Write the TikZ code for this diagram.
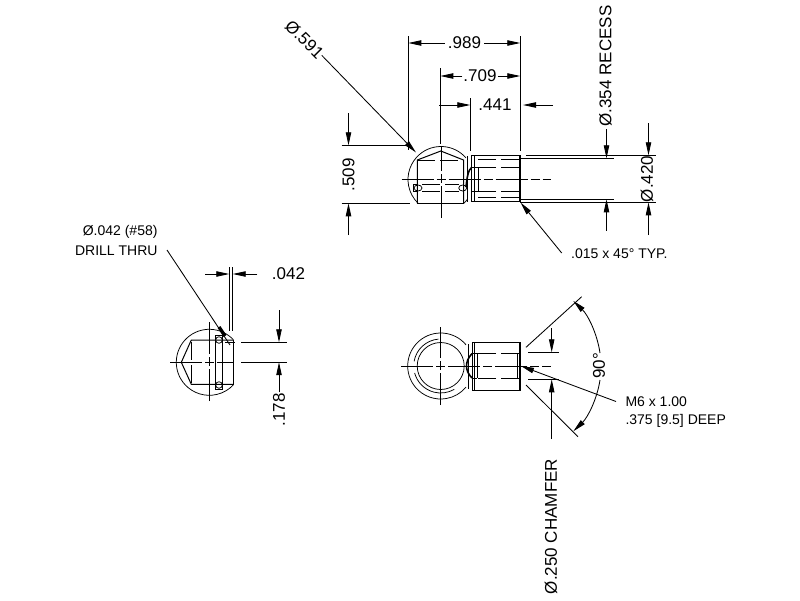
\documentclass[tikz,border=0pt]{standalone}
\usepackage{fontspec}
\setmainfont{Liberation Sans}
\usetikzlibrary{arrows.meta}
\tikzset{
  part/.style={line width=1pt,black},
  heavy/.style={line width=1.6pt,black},
  thin line/.style={line width=0.75pt,black},
  extline/.style={line width=0.85pt,black},
  hidden/.style={line width=0.9pt,black,dash pattern=on 18pt off 5pt},
  centre/.style={line width=0.85pt,black,dash pattern=on 32pt off 3pt on 9pt off 3pt},
  dim/.style={line width=0.85pt,black,-{Triangle[length=13pt,width=5.4pt]}},
  lab/.style={inner sep=0pt,font=\fontsize{17}{20}\selectfont},
  note/.style={inner sep=0pt,font=\fontsize{14}{17}\selectfont},
}
\begin{document}
\begin{tikzpicture}[x=1pt,y=-1pt]
\useasboundingbox (0,0) rectangle (800,600);
\fill[white] (0,0) rectangle (800,600);

% ---------- TOP VIEW ----------
\coordinate (tc) at (441,179.5);
\draw[thin line] (tc) ++(-41:33) arc[start angle=-41,end angle=-226.4,radius=33];
\draw[thin line] (tc) ++(46.4:33) arc[start angle=46.4,end angle=36,radius=33];
\draw[part] (417.3,203.3) -- (463.8,203.3);
\draw[part] (417.3,203.3) -- (417.3,160) -- (440.8,151) -- (463.5,160) -- (463.5,203.3);
\draw[hidden] (417.3,160) -- (463.5,160);
% cross holes
\draw[part] (417.3,184.3) -- (413.3,184.3) -- (413.3,191) -- (417.3,191);
\draw[thin line] (418,188) ellipse[x radius=4,y radius=3];
\draw[thin line] (462.7,188) ellipse[x radius=4,y radius=3];
\draw[hidden] (422,184.5) -- (459,184.5);
\draw[hidden] (422,191.3) -- (459,191.3);
% body
\draw[part] (467.7,156) -- (467.7,201.7);
\draw[part] (471.7,155.3) -- (471.7,201.8);
\draw[part] (474,155.3) -- (474,201.8);
\draw[part] (471.7,155.3) -- (520,155.3);
\draw[part] (471.7,201.8) -- (520,201.8);
\draw[heavy] (520,155) -- (520,202.3);
\draw[hidden] (519,159.3) -- (476,159.3);
\draw[hidden] (519,197.5) -- (476,197.5);
\draw[hidden] (519,167.5) -- (478.3,167.5);
\draw[hidden] (519,191.3) -- (478.3,191.3);
\draw[part] (478.3,167.5) -- (478.3,191.3);
\draw[part] (471.7,167.3) -- (478.3,167.3);
\draw[part] (471.7,191.5) -- (478.3,191.5);
\draw[heavy] (466,187) .. controls (467,178) and (468,170) .. (471.7,167.3);
% centre lines
\draw[centre] (401.5,179.5) -- (551,179.5);
\draw[centre] (441,218) -- (441,146);

% top extension lines
\draw[extline] (408.3,36) -- (408.3,150);
\draw[extline] (520.3,36) -- (520.3,151);
\draw[extline] (440.3,68) -- (440.3,144);
\draw[extline] (470.3,98) -- (470.3,151);
\draw[extline] (341.5,145.3) -- (410,145.3);
\draw[extline] (341.5,203.3) -- (410,203.3);
\draw[extline] (526,155.3) -- (656,155.3);
\draw[extline] (520,158.3) -- (614,158.3);
\draw[extline] (520,199.3) -- (614,199.3);
\draw[extline] (520,202.3) -- (656,202.3);

% top dimensions
\node[lab] (d989) at (464.5,43) {.989};
\draw[dim] (d989.west) ++(-3,0) -- (408.3,43);
\draw[dim] (d989.east) ++(3,0) -- (520.3,43);
\node[lab] (d709) at (480,76) {.709};
\draw[dim] (d709.west) ++(-1,0) -- (440.3,76);
\draw[dim] (d709.east) ++(1,0) -- (520.3,76);
\node[lab] (d441) at (495,105) {.441};
\draw[dim] (439,105) -- (470.3,105);
\draw[dim] (553,105) -- (523,105);
\node[lab,rotate=90] (d509) at (348.5,175) {.509};
\draw[dim] (348.5,113) -- (348.5,145.3);
\draw[dim] (348.5,235) -- (348.5,203.3);
\node[lab,rotate=-45] (d591) at (304.5,39.5) {Ø.591};
\draw[dim] (d591.east) ++(-45:1) -- (416,152.5);
\node[lab,rotate=90] (d354) at (605.5,66) {Ø.354 RECESS};
\draw[dim] (606.5,129) -- (606.5,158.3);
\draw[dim] (606.5,230.5) -- (606.5,199.3);
\node[lab,rotate=90] (d420) at (647,179) {Ø.420};
\draw[dim] (648.5,123) -- (648.5,155.3);
\draw[dim] (648.5,235) -- (648.5,202.3);
\coordinate (chamtip) at (520.5,202.5);
\coordinate (chamend) at (561.7,253);
\draw[dim] (chamend) -- (chamtip);
\node[note,anchor=west] (ch45) at (571,254) {.015 x 45° TYP.};

% ---------- LEFT VIEW ----------
\coordinate (lc) at (209.3,362.3);
\draw[thin line] (lc) ++(-43:33) arc[start angle=-43,end angle=-317,radius=33];
\draw[part] (233.4,339.8) -- (233.4,385);
\draw[part] (233.4,340) -- (191.3,340) -- (181.3,362.3) -- (191.3,384.3) -- (233.4,384.3);
\draw[hidden] (191.3,342) -- (191.3,384);
\draw[part] (215.3,335.3) rectangle (222.7,389.3);
\draw[thin line] (219,340) circle[radius=3.3];
\draw[thin line] (219,385) circle[radius=3.3];
\draw[centre] (170,362.4) -- (233,362.4);
\draw[centre] (209.3,401) -- (209.3,321.5);
\draw[extline] (225,342.3) -- (235,342.3);
\draw[extline] (229.3,267) -- (229.3,331);
\draw[extline] (232.7,267) -- (232.7,331);
\draw[extline] (241,342.3) -- (287,342.3);
\draw[extline] (241,362.2) -- (287,362.2);
\node[lab] (d042) at (288.5,274) {.042};
\draw[dim] (205,274) -- (229.3,274);
\draw[dim] (257.3,274) -- (232.7,274);
\node[lab,rotate=90] (d178) at (279,410) {.178};
\draw[dim] (279,310) -- (279,342.3);
\draw[dim] (d178.east) ++(0,-1) -- (279,362.2);
\node[note,anchor=east] (drillA) at (157.7,231.5) {Ø.042 (\#58)};
\node[note,anchor=east] (drillB) at (157.7,251) {DRILL THRU};
\coordinate (drilltip) at (230,345);
\draw[extline] (167,250) -- (drilltip);
\draw[line width=3.4pt,black,line cap=butt] (219,327) -- (225,336);

% ---------- BOTTOM VIEW ----------
\coordinate (bc) at (440.7,366);
\draw[thin line] (bc) ++(-40:33) arc[start angle=-40,end angle=-320,radius=33];
\draw[thin line] (bc) circle[radius=23.5];
\draw[thin line] (bc) ++(-95:27) arc[start angle=-95,end angle=-170,radius=27];
\draw[thin line] (bc) ++(165:27) arc[start angle=165,end angle=60,radius=27];
\draw[part] (468,344) -- (468,388.5);
\draw[part] (472.3,342.3) rectangle (520,390);
\draw[part] (474.5,342.3) -- (474.5,390);
\draw[hidden] (519,353.3) -- (477,353.3);
\draw[hidden] (519,378.3) -- (477,378.3);
\draw[part] (477,353.3) -- (477,378.3);
\draw[part] (517.7,353.3) -- (517.7,378.3);
\draw[part] (472,353.3) -- (477,353.3);
\draw[part] (472,378.3) -- (477,378.3);
\draw[heavy] (472,353.5) .. controls (468,358) and (466.5,362) .. (466.5,366) .. controls (466.5,370) and (468,374) .. (472,378);
\draw[heavy] (520,343) -- (520,390);
\draw[centre] (401,366) -- (551,366);
\draw[centre] (440.7,405) -- (440.7,326.7);
% chamfer and 90 deg
\draw[extline] (526,347.3) -- (581.7,296.7);
\draw[extline] (526,385) -- (578,436.7);
\draw[extline] (528,352.3) -- (559,352.3);
\draw[extline] (528,379.3) -- (559,379.3);
\draw[dim] (551.7,328) -- (551.7,352.3);
\draw[dim] (551.7,439) -- (551.7,379.3);
\node[lab,rotate=90] (d250) at (551,526.5) {Ø.250 CHAMFER};
\node[lab,rotate=90] (d90) at (599,366) {90°};
\draw[dim] (600,353) arc[start angle=-8.3,end angle=-46,radius=90.7];
\draw[dim] (600,380) arc[start angle=8.9,end angle=46,radius=90.7];
\coordinate (m6tip) at (521,366);
\coordinate (m6end) at (616,401.5);
\draw[dim] (m6end) -- (m6tip);
\node[note,anchor=west] (m6a) at (625.3,401.5) {M6 x 1.00};
\node[note,anchor=west] (m6b) at (625.3,420.5) {.375 [9.5] DEEP};
\end{tikzpicture}
\end{document}
